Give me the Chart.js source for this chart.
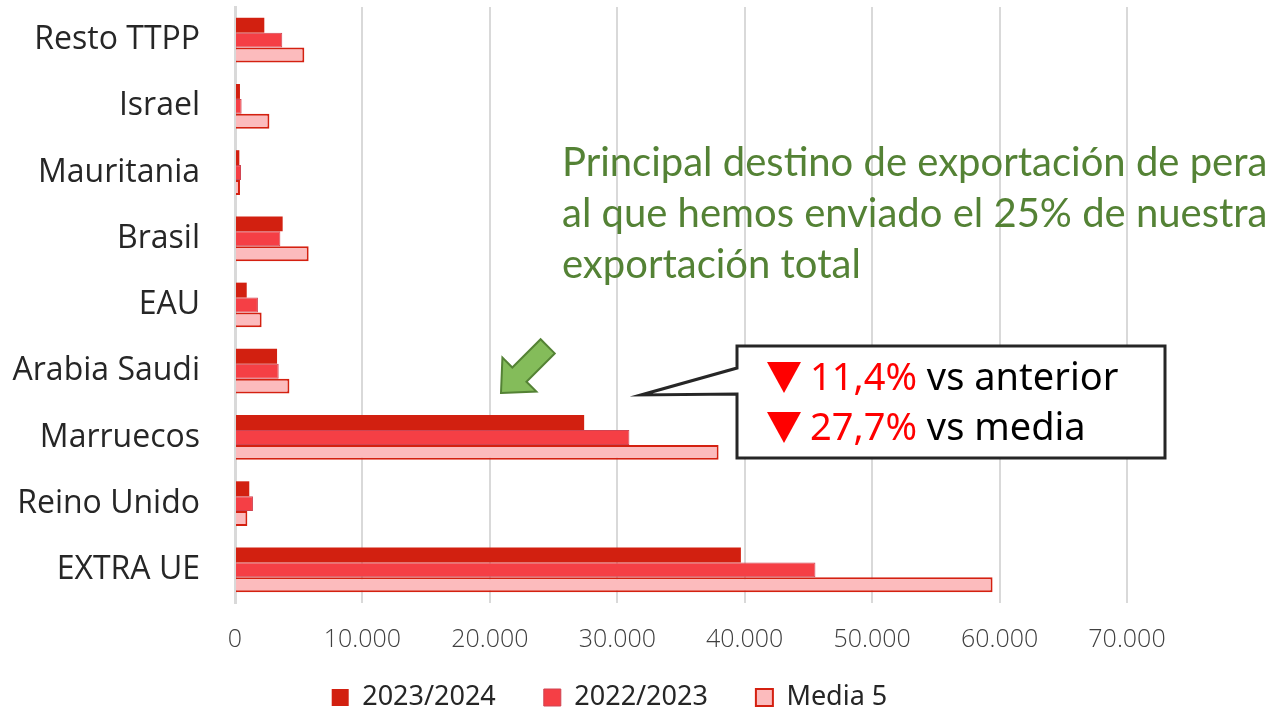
<!DOCTYPE html>
<html>
<head>
<meta charset="utf-8">
<script src="https://cdn.jsdelivr.net/npm/chart.js@4"></script>
<style>
  html, body { margin: 0; padding: 0; background: #fff; }
  #wrap { width: 1274px; height: 709px; position: relative; overflow: hidden; }
</style>
</head>
<body>
<div id="wrap"><canvas id="exportChart" width="1274" height="709"></canvas></div>
<script>
// Categories (top to bottom)
const destinos = ["Resto TTPP", "Israel", "Mauritania", "Brasil", "EAU", "Arabia Saudi", "Marruecos", "Reino Unido", "EXTRA UE"];

// Series values (tonnes)
const campana2324 = [2300, 390, 340, 3740, 920, 3300, 27400, 1120, 39700];
const campana2223 = [3710, 520, 470, 3560, 1800, 3430, 30950, 1410, 45550];
const media5 = [5440, 2700, 390, 5780, 2090, 4270, 37950, 970, 59450];

const seriesNames = ["2023/2024", "2022/2023", "Media 5"];
const xTicks = [0, 10000, 20000, 30000, 40000, 50000, 60000, 70000];

const ctx = document.getElementById("exportChart");

// Callout, arrow and note drawn on top of the chart
const notesPlugin = {
  id: "notes",
  afterLayout(chart) {
    // legend sits a bit right of centre and higher in the original
    const lg = chart.legend;
    lg.left += 46;
    lg.right += 46;
    lg.top = 636;
    lg.bottom = 709;
  },
  afterDraw(chart) {
    const c = chart.ctx;
    c.save();

    // Green note
    c.fillStyle = "#548235";
    c.font = "40px Lato";
    c.textBaseline = "alphabetic";
    c.textAlign = "left";
    c.fillText("Principal destino de exportación de pera", 562, 176);
    c.fillText("al que hemos enviado el 25% de nuestra", 562, 227);
    c.fillText("exportación total", 562, 278);

    // Green block arrow pointing down-left
    c.translate(501, 393);
    c.rotate(Math.PI / 4);
    c.beginPath();
    c.moveTo(0, 0);
    c.lineTo(24, -26);
    c.lineTo(10, -26);
    c.lineTo(10, -66);
    c.lineTo(-10, -66);
    c.lineTo(-10, -26);
    c.lineTo(-24, -26);
    c.closePath();
    c.fillStyle = "#84BC5A";
    c.fill();
    c.strokeStyle = "#548235";
    c.lineWidth = 2;
    c.stroke();
    c.setTransform(1, 0, 0, 1, 0, 0);

    // Callout box with tail
    c.beginPath();
    c.moveTo(737, 346);
    c.lineTo(1165, 346);
    c.lineTo(1165, 458);
    c.lineTo(737, 458);
    c.lineTo(737, 394);
    c.lineTo(641, 395);
    c.lineTo(737, 368);
    c.closePath();
    c.fillStyle = "#ffffff";
    c.fill();
    c.strokeStyle = "#262626";
    c.lineWidth = 3;
    c.stroke();

    c.font = "38px 'Noto Sans'";
    const lines = [["11,4%", " vs anterior", 390], ["27,7%", " vs media", 440]];
    lines.forEach(([pct, rest, y]) => {
      c.fillStyle = "#ff0000";
      c.beginPath();
      c.moveTo(767, y - 28);
      c.lineTo(801, y - 28);
      c.lineTo(784, y + 3);
      c.closePath();
      c.fill();
      c.fillText(pct, 810, y);
      const w = c.measureText(pct).width;
      c.fillStyle = "#000000";
      c.fillText(rest, 810 + w, y);
    });

    c.restore();
  },
};

new Chart(ctx, {
  type: "bar",
  data: {
    labels: destinos,
    datasets: [
      {
        label: seriesNames[0],
        data: campana2324,
        backgroundColor: "#D22010",
        borderWidth: 0,
      },
      {
        label: seriesNames[1],
        data: campana2223,
        backgroundColor: "#F53F45",
        borderColor: "#D04452",
        borderWidth: 1,
      },
      {
        label: seriesNames[2],
        data: media5,
        backgroundColor: "#FCBBBD",
        borderColor: "#D42010",
        borderWidth: 2,
      },
    ],
  },
  plugins: [notesPlugin],
  options: {
    indexAxis: "y",
    responsive: false,
    animation: false,
    layout: { autoPadding: false, padding: { top: 7, right: 147, bottom: 0, left: 0 } },
    datasets: {
      bar: { categoryPercentage: 0.675, barPercentage: 1.0 },
    },
    plugins: {
      tooltip: { enabled: false },
      legend: {
        position: "bottom",
        maxHeight: 56,
        labels: {
          font: { size: 27, family: "'Noto Sans'" },
          color: "#262626",
          boxWidth: 17,
          boxHeight: 17,
          padding: 48,
        },
      },
    },
    scales: {
      x: {
        min: 0,
        max: 70000,
        afterBuildTicks: (scale) => {
          scale.ticks = xTicks.map((v) => ({ value: v }));
        },
        afterFit: (scale) => {
          scale.height = 50;
        },
        ticks: {
          padding: 22,
          color: "#404040",
          font: { size: 25, family: "'Open Sans'", weight: 300 },
          callback: (v) => v.toLocaleString("de-DE"),
        },
        grid: { color: "#D9D9D9", lineWidth: 2, drawTicks: false },
        border: { display: false },
      },
      y: {
        afterFit: (scale) => {
          scale.width = 235;
          scale.paddingTop = 0;
          scale.paddingBottom = 0;
        },
        ticks: {
          padding: 35,
          color: "#262626",
          font: { size: 32, family: "'Open Sans'" },
        },
        grid: { display: false, drawTicks: false },
        border: { display: true, color: "#D9D9D9", width: 3 },
      },
    },
  },
});
</script>
</body>
</html>
